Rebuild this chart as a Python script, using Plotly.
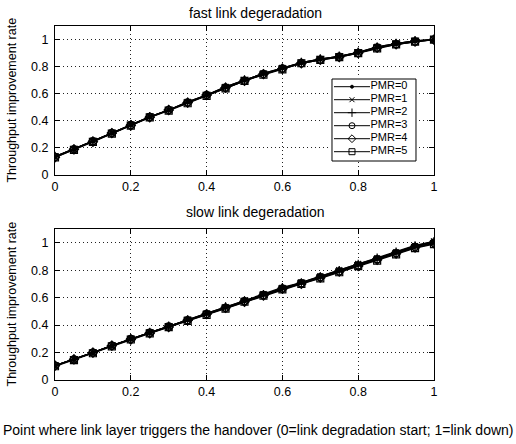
import plotly.graph_objects as go

# Link-layer trigger point (fraction of the degradation period)
trigger_point = [0.0, 0.05, 0.1, 0.15, 0.2, 0.25, 0.3, 0.35, 0.4, 0.45, 0.5,
                 0.55, 0.6, 0.65, 0.7, 0.75, 0.8, 0.85, 0.9, 0.95, 1.0]

pmr_labels = ["PMR=0", "PMR=1", "PMR=2", "PMR=3", "PMR=4", "PMR=5"]
pmr_symbols = ["circle", "x-thin-open", "cross-thin-open", "circle-open", "diamond-open", "square-open"]
pmr_sizes = [4, 6, 7, 7, 7, 7]

# Throughput improvement rate, fast link degradation
fast_pmr0 = [0.135, 0.19, 0.25, 0.31, 0.37, 0.43, 0.48, 0.54, 0.59, 0.65, 0.70,
             0.75, 0.79, 0.83, 0.855, 0.875, 0.905, 0.945, 0.97, 0.99, 1.0]
fast_pmr1 = [0.135, 0.19, 0.25, 0.31, 0.37, 0.43, 0.48, 0.54, 0.59, 0.65, 0.70,
             0.75, 0.79, 0.83, 0.855, 0.875, 0.905, 0.945, 0.97, 0.99, 1.0]
fast_pmr2 = [0.135, 0.19, 0.25, 0.31, 0.37, 0.43, 0.48, 0.535, 0.59, 0.645, 0.70,
             0.745, 0.785, 0.83, 0.855, 0.875, 0.905, 0.94, 0.97, 0.99, 1.0]
fast_pmr3 = [0.135, 0.19, 0.25, 0.31, 0.37, 0.43, 0.48, 0.535, 0.59, 0.645, 0.695,
             0.745, 0.785, 0.825, 0.85, 0.875, 0.9, 0.94, 0.965, 0.985, 1.0]
fast_pmr4 = [0.13, 0.19, 0.245, 0.31, 0.365, 0.425, 0.48, 0.535, 0.59, 0.645, 0.695,
             0.745, 0.785, 0.825, 0.85, 0.87, 0.9, 0.94, 0.965, 0.985, 1.0]
fast_pmr5 = [0.13, 0.185, 0.245, 0.305, 0.365, 0.425, 0.475, 0.53, 0.585, 0.64, 0.695,
             0.74, 0.78, 0.825, 0.85, 0.87, 0.9, 0.935, 0.965, 0.985, 1.0]

# Throughput improvement rate, slow link degradation
slow_pmr0 = [0.105, 0.15, 0.20, 0.25, 0.30, 0.345, 0.39, 0.44, 0.485, 0.53, 0.58,
             0.625, 0.675, 0.71, 0.755, 0.80, 0.845, 0.89, 0.935, 0.98, 1.01]
slow_pmr1 = [0.105, 0.15, 0.20, 0.25, 0.30, 0.345, 0.39, 0.44, 0.485, 0.53, 0.575,
             0.625, 0.67, 0.71, 0.755, 0.80, 0.845, 0.885, 0.93, 0.975, 1.01]
slow_pmr2 = [0.105, 0.15, 0.20, 0.25, 0.30, 0.345, 0.39, 0.435, 0.48, 0.53, 0.575,
             0.62, 0.67, 0.705, 0.75, 0.795, 0.84, 0.885, 0.93, 0.975, 1.005]
slow_pmr3 = [0.105, 0.15, 0.20, 0.25, 0.30, 0.345, 0.39, 0.435, 0.48, 0.525, 0.575,
             0.62, 0.665, 0.705, 0.75, 0.79, 0.835, 0.88, 0.925, 0.97, 1.0]
slow_pmr4 = [0.105, 0.15, 0.20, 0.25, 0.295, 0.34, 0.385, 0.435, 0.48, 0.525, 0.57,
             0.615, 0.665, 0.70, 0.745, 0.79, 0.83, 0.875, 0.92, 0.965, 0.995]
slow_pmr5 = [0.10, 0.145, 0.195, 0.245, 0.295, 0.34, 0.385, 0.43, 0.475, 0.52, 0.57,
             0.615, 0.66, 0.70, 0.74, 0.785, 0.83, 0.87, 0.915, 0.96, 0.99]

fast_series = [fast_pmr0, fast_pmr1, fast_pmr2, fast_pmr3, fast_pmr4, fast_pmr5]
slow_series = [slow_pmr0, slow_pmr1, slow_pmr2, slow_pmr3, slow_pmr4, slow_pmr5]

FONT = "Liberation Sans, Arial, sans-serif"
YLABEL = "Throughput improvement rate"

fig = go.Figure()


def add_panel(series_list, xa, ya):
    for name, vals, sym, sz in zip(pmr_labels, series_list, pmr_symbols, pmr_sizes):
        fig.add_trace(go.Scatter(
            x=trigger_point, y=vals, name=name, mode="lines+markers",
            xaxis=xa, yaxis=ya, showlegend=False,
            line=dict(color="black", width=1.3),
            marker=dict(symbol=sym, size=sz, color="black",
                        line=dict(color="black", width=1.2)),
        ))


add_panel(fast_series, "x", "y")
add_panel(slow_series, "x2", "y2")

# Legend drawn on a small overlay subplot (pixel units inside the box)
fig.add_trace(go.Scatter(
    x=[1, 85, 85, 1, 1], y=[1, 1, 83, 83, 1], mode="lines", fill="toself",
    fillcolor="white", line=dict(color="black", width=1),
    xaxis="x3", yaxis="y3", showlegend=False, hoverinfo="skip"))
for i, (name, sym, sz) in enumerate(zip(pmr_labels, pmr_symbols, pmr_sizes)):
    row = 8.7 + 13 * i
    fig.add_trace(go.Scatter(
        x=[3, 39], y=[row, row], mode="lines", line=dict(color="black", width=1),
        xaxis="x3", yaxis="y3", showlegend=False, hoverinfo="skip"))
    fig.add_trace(go.Scatter(
        x=[21], y=[row], mode="markers",
        marker=dict(symbol=sym, size=(sz - 1) if i else 3, color="black",
                    line=dict(color="black", width=1)),
        xaxis="x3", yaxis="y3", showlegend=False, hoverinfo="skip"))
    fig.add_trace(go.Scatter(
        x=[39.5], y=[row], mode="text", text=[name], textposition="middle right",
        textfont=dict(family=FONT, size=11, color="black"),
        xaxis="x3", yaxis="y3", showlegend=False, hoverinfo="skip"))

axis_common = dict(
    showline=True, linecolor="black", linewidth=1, mirror="ticks",
    ticks="inside", ticklen=5, tickcolor="black", tickwidth=1,
    showgrid=True, gridcolor="#222", gridwidth=1, griddash="1px,3px",
    zeroline=False, automargin=False,
    tickfont=dict(family=FONT, size=12.5, color="black"),
)

text_font = dict(family=FONT, size=14, color="black")

fig.update_layout(
    width=516, height=444,
    margin=dict(l=55, r=82, t=26, b=64, autoexpand=False),
    paper_bgcolor="white", plot_bgcolor="white",
    font=dict(family=FONT, size=12, color="black"),
    xaxis=dict(domain=[0, 1], range=[0, 1], dtick=0.2, tick0=0, anchor="y", **axis_common),
    yaxis=dict(domain=[0.579, 1], range=[0, 1.1], dtick=0.2, tick0=0, anchor="x",
               ticklabelstandoff=3, **axis_common),
    xaxis2=dict(domain=[0, 1], range=[0, 1], dtick=0.2, tick0=0, anchor="y2", **axis_common),
    yaxis2=dict(domain=[0, 0.4266], range=[0, 1.1], dtick=0.2, tick0=0, anchor="x2",
                ticklabelstandoff=3, **axis_common),
    xaxis3=dict(domain=[0.7282, 0.9551], range=[0, 86], anchor="y3", visible=False),
    yaxis3=dict(domain=[0.6158, 0.8531], range=[84, 0], anchor="x3", visible=False),
    annotations=[
        dict(text="fast link degeradation", xref="paper", yref="paper",
             x=(255.5 - 55) / 379, y=(380 - 13) / 354, xanchor="center", yanchor="middle",
             showarrow=False, font=text_font),
        dict(text="slow link degeradation", xref="paper", yref="paper",
             x=(255.5 - 55) / 379, y=(380 - 212) / 354, xanchor="center", yanchor="middle",
             showarrow=False, font=text_font),
        dict(text=YLABEL, xref="paper", yref="paper", textangle=-90,
             x=(12 - 55) / 379, y=(0.579 + 1) / 2, xanchor="center", yanchor="middle",
             showarrow=False, font=dict(family=FONT, size=12.5, color="black")),
        dict(text=YLABEL, xref="paper", yref="paper", textangle=-90,
             x=(12 - 55) / 379, y=0.4266 / 2, xanchor="center", yanchor="middle",
             showarrow=False, font=dict(family=FONT, size=12.5, color="black")),
        dict(text="Point where link layer triggers the handover (0=link degradation start; 1=link down)",
             xref="paper", yref="paper", x=(258.5 - 55) / 379, y=(380 - 430) / 354,
             xanchor="center", yanchor="middle", showarrow=False, font=text_font),
    ],
)

fig.write_html("out.html")
